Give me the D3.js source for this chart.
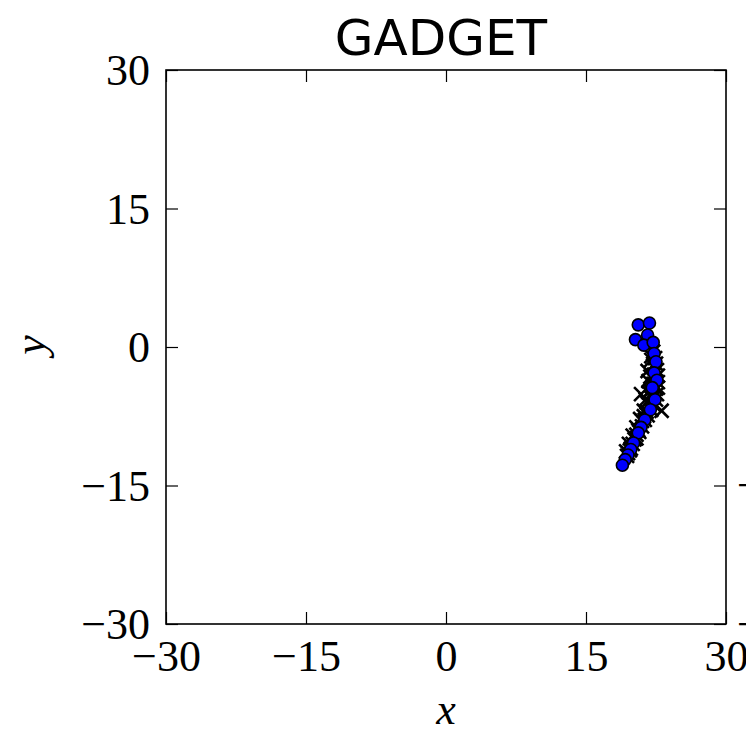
<!DOCTYPE html>
<html>
<head>
<meta charset="utf-8">
<script src="https://cdn.jsdelivr.net/npm/d3@7"></script>
<style>
  html, body { margin: 0; padding: 0; background: #fff; }
  svg { display: block; }
</style>
</head>
<body>
<svg id="chart" width="746" height="736"></svg>
<script>
// Panel title and axis ticks
const title = "GADGET";
const xTicks = [-30, -15, 0, 15, 30];
const yTicks = [-30, -15, 0, 15, 30];
// Tick labels of the neighbouring panel, cut off at the right edge
const neighbourTicks = [-15, -30];

// Blue circles: particle positions (x, y)
const circleX = [20.6, 21.8, 20.3, 21.6, 21.2, 22.2, 22.3, 22.5, 22.3, 22.6, 22.1, 22.4, 21.9, 21.3, 20.9, 20.6, 20.1, 19.8, 19.5, 19.2, 18.9];
const circleY = [2.4, 2.6, 0.8, 1.3, 0.2, 0.5, -0.7, -1.6, -2.8, -3.6, -4.4, -5.7, -6.8, -7.9, -8.7, -9.3, -10.4, -11.1, -11.7, -12.2, -12.8];

// Black crosses: second particle set along the same arc
const crossX = [22.2, 22.4, 22.5, 22.6, 22.7, 22.7, 22.7, 22.6, 22.5, 22.3, 22.0, 21.6, 21.3, 21.0, 20.7, 20.4, 20.0, 19.7, 19.4,
                20.9, 23.1, 21.4, 21.9, 21.6, 21.7, 21.7, 21.5, 21.2, 20.8, 20.4, 20.0, 19.6, 19.3, 22.0, 21.9,
                22.0, 22.2, 22.3, 22.2, 22.1, 21.9, 21.5, 21.0, 20.6, 20.2, 19.8, 19.5, 22.5, 22.0, 21.2, 20.4];
const crossY = [-0.5, -1.2, -1.8, -2.5, -3.1, -3.8, -4.4, -5.1, -5.7, -6.3, -6.8, -7.4, -7.9, -8.6, -9.2, -9.9, -10.5, -11.2, -11.8,
                -5.1, -6.9, -5.7, -4.7, -2.6, -3.7, -4.9, -6.0, -6.9, -7.8, -8.7, -9.6, -10.5, -11.3, -1.4, -3.2,
                -1.0, -2.0, -3.0, -4.0, -5.0, -6.0, -7.0, -8.0, -9.0, -10.0, -11.0, -11.5, -4.5, -5.5, -7.5, -9.5];

const svg = d3.select("#chart");
const W = 746, H = 736;
svg.append("rect").attr("width", W).attr("height", H).attr("fill", "#fff");

const mLeft = 166, mRight = 726, mTop = 70, mBottom = 624;
const x = d3.scaleLinear().domain([-30, 30]).range([mLeft, mRight]);
const y = d3.scaleLinear().domain([-30, 30]).range([mBottom, mTop]);

const fmt = d => (d < 0 ? "\u2212" + Math.abs(d) : String(d));
const serif = "'Liberation Serif', 'Times New Roman', serif";
const tickLen = 12;

// Data marks, clipped to the axes box
svg.append("clipPath").attr("id", "plotClip")
  .append("rect").attr("x", mLeft).attr("y", mTop).attr("width", mRight - mLeft).attr("height", mBottom - mTop);
const plot = svg.append("g").attr("clip-path", "url(#plotClip)");

const crosses = crossX.map((v, i) => ({ x: v, y: crossY[i] }));
const s = 7;
plot.append("g").selectAll("path").data(crosses).join("path")
  .attr("d", d => {
    const cx = x(d.x), cy = y(d.y);
    return `M${cx - s},${cy - s}L${cx + s},${cy + s}M${cx - s},${cy + s}L${cx + s},${cy - s}`;
  })
  .attr("stroke", "#000").attr("stroke-width", 2.6).attr("fill", "none");

const circles = circleX.map((v, i) => ({ x: v, y: circleY[i] }));
plot.append("g").selectAll("circle").data(circles).join("circle")
  .attr("cx", d => x(d.x)).attr("cy", d => y(d.y)).attr("r", 6)
  .attr("fill", "#0000ff").attr("stroke", "#000").attr("stroke-width", 1.6);

// Axes: bottom/left with labels, ticks pointing inward on all four sides
const xAxisB = d3.axisBottom(x).tickValues(xTicks).tickFormat(fmt).tickSizeInner(-tickLen).tickSizeOuter(0).tickPadding(16);
const xAxisT = d3.axisTop(x).tickValues(xTicks).tickFormat("").tickSizeInner(-tickLen).tickSizeOuter(0);
const yAxisL = d3.axisLeft(y).tickValues(yTicks).tickFormat(fmt).tickSizeInner(-tickLen).tickSizeOuter(0).tickPadding(16);
const yAxisR = d3.axisRight(y).tickValues(yTicks).tickFormat("").tickSizeInner(-tickLen).tickSizeOuter(0);

function style(g) {
  g.select(".domain").remove();
  g.selectAll(".tick line").attr("stroke", "#000").attr("stroke-width", 1.2);
  g.selectAll("text").attr("fill", "#000").attr("font-family", serif).attr("font-size", 44);
}
svg.append("g").attr("transform", `translate(0,${mBottom})`).call(xAxisB).call(style)
  .selectAll("text").attr("dy", "0.71em");
svg.append("g").attr("transform", `translate(0,${mTop})`).call(xAxisT).call(style);
svg.append("g").attr("transform", `translate(${mLeft},0)`).call(yAxisL).call(style)
  .selectAll("text").attr("dy", "0.34em");
svg.append("g").attr("transform", `translate(${mRight},0)`).call(yAxisR).call(style);

// Frame
svg.append("rect").attr("x", mLeft).attr("y", mTop).attr("width", mRight - mLeft).attr("height", mBottom - mTop)
  .attr("fill", "none").attr("stroke", "#000").attr("stroke-width", 1.6);

// Neighbouring panel's y tick labels, cut off by the edge
svg.append("g").selectAll("text").data(neighbourTicks).join("text")
  .attr("x", 737).attr("y", d => y(d)).attr("dy", "0.34em")
  .attr("font-family", serif).attr("font-size", 44).attr("fill", "#000")
  .text(fmt);

// Title and axis labels
svg.append("text").attr("x", 441).attr("y", 55).attr("text-anchor", "middle")
  .attr("font-family", "'DejaVu Sans', sans-serif").attr("font-size", 50).attr("fill", "#000")
  .text(title);
svg.append("text").attr("x", 446).attr("y", 724).attr("text-anchor", "middle")
  .attr("font-family", serif).attr("font-style", "italic").attr("font-size", 44).attr("fill", "#000")
  .text("x");
svg.append("text").attr("transform", "translate(45,345) rotate(-90)").attr("text-anchor", "middle")
  .attr("font-family", serif).attr("font-style", "italic").attr("font-size", 44).attr("fill", "#000")
  .text("y");
</script>
</body>
</html>
